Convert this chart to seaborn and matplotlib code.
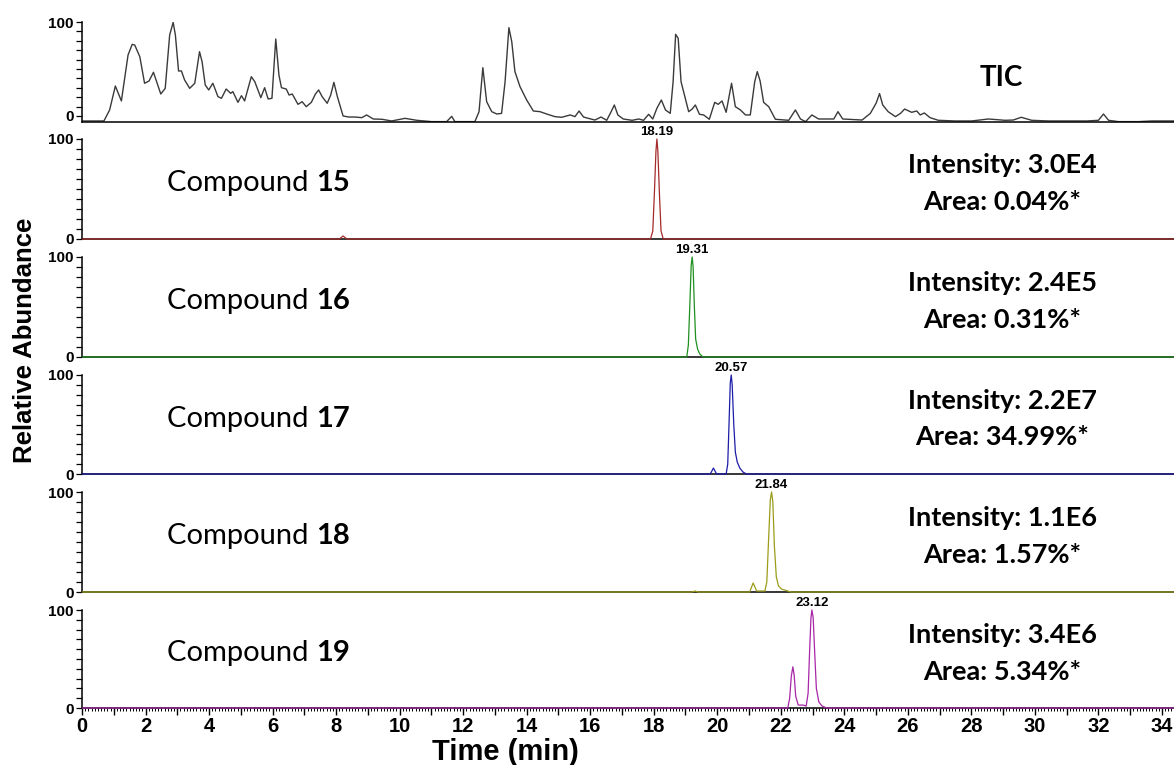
import numpy as np
import pandas as pd
import matplotlib
matplotlib.use("Agg")
import matplotlib.pyplot as plt
from matplotlib.ticker import MultipleLocator, FixedLocator, FuncFormatter
import seaborn as sns

# ---------------- data ----------------
tic_time = [0.00, 0.69, 0.87, 1.05, 1.24, 1.45, 1.58, 1.66, 1.82, 1.97, 2.11, 2.25, 2.48, 2.62,
            2.76, 2.87, 2.94, 3.04, 3.13, 3.23, 3.39, 3.55, 3.70, 3.78, 3.88, 3.99, 4.12, 4.28,
            4.39, 4.54, 4.68, 4.75, 4.91, 5.02, 5.12, 5.33, 5.44, 5.63, 5.75, 5.86, 5.98, 6.10,
            6.20, 6.28, 6.43, 6.52, 6.62, 6.80, 6.93, 7.06, 7.22, 7.35, 7.45, 7.56, 7.72, 7.83,
            7.93, 8.04, 8.22, 8.40, 8.60, 8.81, 8.96, 9.17, 9.44, 9.75, 10.17, 10.54, 11.01,
            11.48, 11.64, 11.74, 12.01, 12.37, 12.50, 12.62, 12.74, 12.90, 13.06, 13.21, 13.32,
            13.44, 13.53, 13.63, 13.79, 14.00, 14.21, 14.42, 14.63, 14.89, 15.10, 15.37, 15.52,
            15.65, 15.79, 15.94, 16.15, 16.34, 16.52, 16.66, 16.76, 16.87, 17.04, 17.32, 17.53,
            17.68, 17.84, 17.97, 18.10, 18.24, 18.37, 18.52, 18.61, 18.69, 18.77, 18.86, 18.98,
            19.10, 19.21, 19.31, 19.44, 19.57, 19.75, 19.92, 20.03, 20.15, 20.28, 20.45, 20.57,
            20.73, 20.89, 21.04, 21.18, 21.26, 21.35, 21.46, 21.62, 21.83, 22.25, 22.46, 22.62,
            22.78, 22.98, 23.19, 23.51, 23.67, 23.80, 23.95, 24.56, 24.82, 25.00, 25.11, 25.21,
            25.38, 25.61, 25.77, 25.90, 26.12, 26.28, 26.39, 26.52, 26.70, 26.96, 27.49, 28.01,
            28.54, 29.06, 29.32, 29.57, 29.90, 30.43, 31.06, 31.63, 32.00, 32.16, 32.32, 32.63,
            33.26, 33.68, 34.38]
tic_abund = [-5.3, -5.3, 6.4, 31.9, 16.0, 64.9, 76.2, 75.5, 63.1, 34.8, 37.2, 46.5, 23.4, 29.4,
             86.2, 99.6, 86.2, 47.9, 47.9, 38.3, 29.4, 34.8, 68.4, 57.8, 33.0, 27.7, 34.8, 20.6,
             18.8, 28.7, 24.1, 25.9, 14.5, 21.6, 16.0, 41.8, 36.5, 19.5, 30.1, 18.1, 18.8, 81.9,
             43.6, 30.1, 28.7, 22.3, 23.4, 12.4, 15.2, 9.9, 14.5, 23.4, 27.7, 20.6, 13.5, 22.3,
             35.8, 20.6, 0.0, -1.1, -1.1, -1.8, 1.1, -3.2, -3.5, -5.3, -2.5, -4.6, -6.0,
             -6.0, -0.4, -6.0, -6.0, -6.0, 4.6, 51.4, 15.2, 4.6, 2.1, 2.8, 36.5,
             94.0, 79.1, 47.2, 31.2, 17.0, 5.3, 4.6, 2.1, -0.7, -1.4, 1.1, -0.7,
             5.3, -1.1, -2.5, -4.3, -1.1, -4.6, 4.6, 11.7, 1.1, -3.2, -4.6, -3.2,
             -4.6, 1.8, -3.2, 8.2, 17.0, 6.4, 2.8, 36.5, 86.9, 82.6, 36.5, 20.6,
             4.6, 7.4, 11.7, 1.8, 1.1, -3.5, 14.5, 12.4, 16.0, 3.9, 34.8, 9.9,
             6.4, 1.1, 1.1, 36.5, 47.2, 37.2, 14.5, 9.9, -3.5, -4.6, 6.4, -3.2,
             -6.0, 1.1, -3.2, -3.2, -3.2, 4.6, -3.2, -4.3, 2.8, 13.5, 23.8, 11.7,
             4.6, -0.7, 2.8, 7.4, 3.9, 5.3, 1.1, 3.2, -1.8, -4.6, -5.3, -5.3,
             -3.2, -4.6, -4.3, -1.4, -4.6, -5.3, -5.3, -5.3, -4.6, 2.1, -4.6, -6.0,
             -6.0, -5.3, -5.3]

c15_time = [0.00, 8.10, 8.22, 8.34, 17.90, 17.97, 18.02, 18.07, 18.10, 18.13, 18.18, 18.23, 18.30, 34.38]
c15_abund = [0, 0, 3, 0, 0, 8, 45, 88, 100, 88, 45, 8, 0, 0]

c16_time = [0.00, 19.04, 19.09, 19.14, 19.18, 19.21, 19.24, 19.28, 19.32, 19.38, 19.45, 19.55, 34.38]
c16_abund = [0, 0, 12, 55, 92, 100, 90, 50, 18, 8, 3, 0, 0]

c17_time = [0.00, 19.78, 19.88, 19.98, 20.28, 20.33, 20.37, 20.41, 20.44, 20.47, 20.52, 20.57,
            20.63, 20.71, 20.81, 20.92, 34.38]
c17_abund = [0, 0, 6, 0, 0, 10, 50, 92, 100, 90, 50, 22, 12, 6, 2, 0, 0]

c18_time = [0.00, 19.20, 19.30, 19.40, 21.02, 21.13, 21.24, 21.50, 21.56, 21.62, 21.67, 21.71,
            21.75, 21.80, 21.86, 21.93, 22.02, 22.12, 22.22, 22.32, 34.38]
c18_abund = [0, 0, 1, 0, 0, 9, 1, 1, 10, 55, 92, 100, 90, 45, 15, 6, 3, 2, 1, 0, 0]

c19_time = [0.00, 22.22, 22.28, 22.33, 22.38, 22.42, 22.47, 22.55, 22.70, 22.80, 22.86, 22.91,
            22.95, 22.98, 23.02, 23.07, 23.12, 23.20, 23.30, 23.45, 34.38]
c19_abund = [0, 0, 10, 32, 42, 34, 12, 3, 3, 2, 15, 60, 92, 100, 92, 55, 20, 6, 2, 0, 0]

compound_ids = ["15", "16", "17", "18", "19"]
peak_labels = ["18.19", "19.31", "20.57", "21.84", "23.12"]
intensity_labels = ["3.0E4", "2.4E5", "2.2E7", "1.1E6", "3.4E6"]
area_labels = ["0.04%*", "0.31%*", "34.99%*", "1.57%*", "5.34%*"]
trace_colors = ["#a52a2a", "#1f8f1f", "#1c1ca8", "#9c9c1a", "#a826a8"]
x_ticks = list(range(0, 35, 2))

compound_series = [(c15_time, c15_abund), (c16_time, c16_abund), (c17_time, c17_abund),
                   (c18_time, c18_abund), (c19_time, c19_abund)]

# ---------------- style ----------------
sns.set_style("ticks")
plt.rcParams["font.family"] = ["Liberation Sans", "DejaVu Sans"]
plt.rcParams["axes.linewidth"] = 1.1
plt.rcParams["text.color"] = "black"
plt.rcParams["axes.edgecolor"] = "black"
plt.rcParams["xtick.color"] = "black"
plt.rcParams["ytick.color"] = "black"
plt.rcParams["axes.labelcolor"] = "black"

W, H = 1174, 765
fig = plt.figure(figsize=(W / 100, H / 100), dpi=100)

x0_px, x1_px = 82, 1174
XMAX = 34.38
panels_px = [(22, 122), (139, 239), (257, 357), (375, 474), (492, 592), (610, 708)]

label_font = "Lato"


def make_ax(top, bottom):
    ax = fig.add_axes([x0_px / W, 1 - bottom / H, (x1_px - x0_px) / W, (bottom - top) / H])
    ax.set_xlim(0, XMAX)
    ax.spines["top"].set_visible(False)
    ax.spines["right"].set_visible(False)
    ax.yaxis.set_major_locator(FixedLocator([0, 100]))
    ax.yaxis.set_minor_locator(MultipleLocator(10))
    ax.tick_params(axis="y", which="both", direction="out", length=4.5, width=0.9,
                   colors="black", labelsize=11, pad=1.5)
    for lab in ax.get_yticklabels():
        lab.set_fontweight("bold")
    ax.set_facecolor("none")
    return ax


axes = []
# TIC panel
ax_tic = make_ax(*panels_px[0])
ax_tic.set_ylim(-6.4, 100)
df_tic = pd.DataFrame({"t": tic_time, "a": tic_abund})
sns.lineplot(data=df_tic, x="t", y="a", ax=ax_tic, color="#3a3a3a", lw=1.0,
             estimator=None, sort=False)
ax_tic.text(0.842, 0.44, "TIC", transform=ax_tic.transAxes, ha="center", va="center",
            fontsize=20, fontweight="bold", family=label_font)
axes.append(ax_tic)

for i, ((tt, aa), cid, plab, inten, area, col) in enumerate(
        zip(compound_series, compound_ids, peak_labels, intensity_labels, area_labels, trace_colors)):
    ax = make_ax(*panels_px[i + 1])
    ax.set_ylim(0, 100)
    df = pd.DataFrame({"t": tt, "a": aa})
    sns.lineplot(data=df, x="t", y="a", ax=ax, color=col, lw=0.9,
                 estimator=None, sort=False, clip_on=False, zorder=3)
    k = int(np.argmax(aa))
    ax.annotate(plab, xy=(tt[k], aa[k]), xytext=(0, 0.5), textcoords="offset points",
                ha="center", va="bottom", fontsize=9.5, fontweight="bold",
                annotation_clip=False)
    t1 = ax.text(0.078, 0.56, "Compound ", transform=ax.transAxes, ha="left", va="center",
                 fontsize=21, family=label_font)
    ax.annotate(cid, xy=(1, 0), xycoords=t1, ha="left", va="bottom",
                fontsize=21, fontweight="bold", family=label_font)
    ax.text(0.8425, 0.74, f"Intensity: {inten}", transform=ax.transAxes, ha="center",
            va="center", fontsize=19.5, fontweight="bold", family=label_font)
    ax.text(0.8425, 0.37, f"Area: {area}", transform=ax.transAxes, ha="center",
            va="center", fontsize=19.5, fontweight="bold", family=label_font)
    axes.append(ax)

for ax in axes:
    ax.set_xlabel("")
    ax.set_ylabel("")
    if ax is not axes[-1]:
        ax.tick_params(axis="x", which="both", bottom=False, labelbottom=False)

# bottom x axis
axb = axes[-1]
axb.xaxis.set_major_locator(MultipleLocator(1))
axb.xaxis.set_minor_locator(MultipleLocator(0.1))
axb.xaxis.set_major_formatter(FuncFormatter(lambda v, p: f"{int(round(v))}" if int(round(v)) in x_ticks else ""))
axb.tick_params(axis="x", which="major", direction="out", length=5, width=1.0, labelsize=14.5, pad=1.5)
axb.tick_params(axis="x", which="minor", direction="out", length=2.5, width=0.7)
for lab in axb.get_xticklabels():
    lab.set_fontweight("bold")

fig.text(25 / W, 1 - 340 / H, "Relative Abundance", rotation=90, ha="center", va="center",
         fontsize=18.5, fontweight="bold")
fig.text(505 / W, 1 - 760 / H, "Time (min)", ha="center", va="baseline",
         fontsize=21, fontweight="bold")

fig.savefig("out.png", dpi=100)
